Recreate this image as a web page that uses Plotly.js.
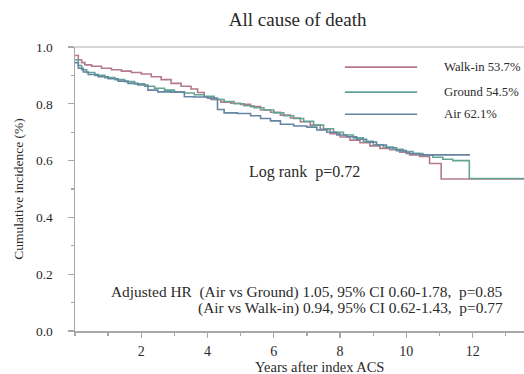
<!DOCTYPE html>
<html><head><meta charset="utf-8">
<script src="https://cdn.plot.ly/plotly-3.0.1.min.js"></script>
<style>html,body{margin:0;padding:0;background:#fff;}#c{width:524px;height:374px;}</style>
</head><body><div id="c"></div>
<script>
const groupNames = ["Walk-in", "Ground", "Air"];
const endPct = ["53.7%", "54.5%", "62.1%"];
const groupColors = ["#b47a8a", "#62a596", "#6585a3"];

const walkinT = [0,0.1,0.2,0.3,0.5,0.8,1.1,1.4,1.7,2.0,2.3,2.6,2.9,3.2,3.5,3.7,3.9,4.1,4.4,4.7,5.0,5.3,5.6,5.9,6.2,6.5,6.8,7.1,7.4,7.7,8.0,8.3,8.6,8.9,9.2,9.5,9.8,10.1,10.4,10.7,11.05,13.55];
const walkinS = [0.97,0.955,0.945,0.937,0.932,0.925,0.92,0.915,0.91,0.905,0.895,0.885,0.872,0.862,0.852,0.84,0.825,0.815,0.806,0.802,0.798,0.79,0.778,0.77,0.76,0.75,0.737,0.725,0.71,0.695,0.683,0.672,0.663,0.652,0.643,0.638,0.63,0.62,0.615,0.59,0.535,0.535];

const groundT = [0,0.1,0.2,0.35,0.6,0.9,1.2,1.5,1.8,2.1,2.4,2.7,3.0,3.3,3.6,3.9,4.2,4.5,4.8,5.1,5.4,5.7,6.0,6.3,6.6,6.9,7.2,7.5,7.8,8.1,8.4,8.7,9.0,9.3,9.6,9.9,10.2,10.5,10.8,11.1,11.4,11.9,13.55];
const groundS = [0.955,0.935,0.92,0.91,0.9,0.892,0.885,0.878,0.87,0.862,0.855,0.848,0.842,0.838,0.832,0.826,0.815,0.808,0.8,0.793,0.786,0.778,0.768,0.758,0.748,0.738,0.725,0.712,0.7,0.69,0.68,0.668,0.656,0.648,0.64,0.632,0.625,0.62,0.612,0.605,0.6,0.537,0.537];

const airT = [0,0.1,0.25,0.4,0.7,1.0,1.3,1.6,1.9,2.2,2.5,2.9,3.3,3.6,4.0,4.3,4.5,4.9,5.3,5.6,5.9,6.2,6.6,7.0,7.3,7.6,7.9,8.2,8.5,8.8,9.1,9.4,9.7,10.0,10.4,11.92];
const airS = [0.945,0.925,0.912,0.903,0.895,0.888,0.88,0.872,0.866,0.848,0.842,0.841,0.825,0.824,0.82,0.78,0.768,0.766,0.758,0.748,0.74,0.728,0.722,0.718,0.708,0.7,0.69,0.684,0.675,0.665,0.655,0.645,0.635,0.625,0.62,0.62];

const xTicks = [2,4,6,8,10,12];
const xMinor = [0,1,3,5,7,9,11,13];
const yTicks = [0,0.2,0.4,0.6,0.8,1.0];
const yMinor = [0.1,0.3,0.5,0.7,0.9];

const titleText = "All cause of death";
const xTitle = "Years after index ACS";
const yTitle = "Cumulative incidence (%)";
const logRankText = "Log rank  p=0.72";
const hrLine1 = "Adjusted HR  (Air vs Ground) 1.05, 95% CI 0.60-1.78,  p=0.85";
const hrLine2 = "(Air vs Walk-in) 0.94, 95% CI 0.62-1.43,  p=0.77";

const serif = "Liberation Serif";
const txt = "#2a2a2a";
const axCol = "#a8a8a8";

const series = [[walkinT, walkinS],[groundT, groundS],[airT, airS]];
const traces = series.map((s,i)=>({
  x: s[0], y: s[1], type:"scatter", mode:"lines",
  line:{shape:"hv", color: groupColors[i], width:1.6},
  name: groupNames[i], showlegend:false, hoverinfo:"skip"
}));

const legY = [0.929, 0.841, 0.763];
const shapes = [
  {type:"line", xref:"paper", yref:"paper", x0:0, x1:1, y0:1, y1:1, line:{color:"#c8c8c8", width:1.5}}
];
const annotations = [];
groupNames.forEach((g,i)=>{
  shapes.push({type:"line", xref:"paper", yref:"paper", x0:0.601, x1:0.762, y0:legY[i], y1:legY[i], line:{color:groupColors[i], width:1.6}});
  annotations.push({xref:"paper", yref:"paper", x:0.818, y:legY[i], xanchor:"left", yanchor:"middle", showarrow:false,
    text: g + " " + endPct[i], font:{family:serif, size:12.7, color:txt}});
});
annotations.push({xref:"x", yref:"y", x:5.2, y:0.56, xanchor:"left", yanchor:"middle", showarrow:false,
  text: logRankText, font:{family:serif, size:16, color:txt}});
annotations.push({xref:"paper", yref:"paper", x:0.957, y:(331.5-292.5)/285, xanchor:"right", yanchor:"middle", showarrow:false,
  text: hrLine1, font:{family:serif, size:15.4, color:txt}});
annotations.push({xref:"paper", yref:"paper", x:0.957, y:(331.5-308)/285, xanchor:"right", yanchor:"middle", showarrow:false,
  text: hrLine2, font:{family:serif, size:15.4, color:txt}});
annotations.push({xref:"paper", yref:"paper", x:(319-75)/449, y:-(367.5-331.5)/285, xanchor:"center", yanchor:"middle", showarrow:false,
  text: xTitle, font:{family:serif, size:14.5, color:txt}});

const layout = {
  width:524, height:374,
  margin:{l:75, r:0, t:46.5, b:42.5},
  paper_bgcolor:"#fff", plot_bgcolor:"#fff",
  title:{text:titleText, x:0.568, xanchor:"center", y:1-19/374, yanchor:"middle", font:{family:serif, size:19, color:txt}},
  xaxis:{range:[0,13.55], tickvals:xTicks, ticktext:xTicks.map(String), ticks:"outside", ticklen:5, tickwidth:1.3, tickcolor:axCol,
    showline:true, linecolor:axCol, linewidth:1.5, showgrid:false, zeroline:false, ticklabelstandoff:2,
    minor:{tickvals:xMinor, ticks:"outside", ticklen:3, tickcolor:axCol, showgrid:false},
    tickfont:{family:serif, size:14, color:txt}, fixedrange:true},
  yaxis:{range:[0,1], tickvals:yTicks, ticktext:yTicks.map(v=>v.toFixed(1)), ticks:"outside", ticklen:6, tickwidth:1.3, tickcolor:axCol,
    showline:true, linecolor:axCol, linewidth:1.5, showgrid:false, zeroline:false, ticklabelstandoff:12,
    minor:{tickvals:yMinor, ticks:"outside", ticklen:3, tickcolor:axCol, showgrid:false},
    title:{text:yTitle, standoff:9, font:{family:serif, size:13.5, color:txt}},
    tickfont:{family:serif, size:13.5, color:txt}, fixedrange:true},
  shapes:shapes, annotations:annotations, showlegend:false
};
Plotly.newPlot("c", traces, layout, {staticPlot:true, displayModeBar:false});
</script></body></html>
